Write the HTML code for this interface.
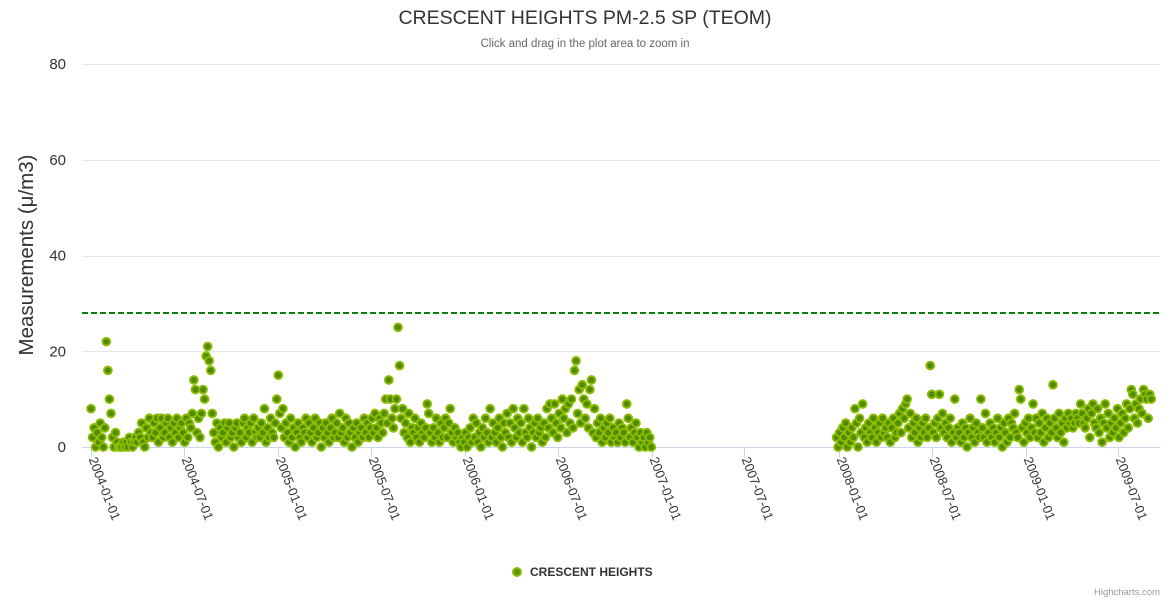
<!DOCTYPE html>
<html><head><meta charset="utf-8"><style>
html,body{margin:0;padding:0;background:#fff;}
svg{display:block;font-family:"Liberation Sans","DejaVu Sans",sans-serif;}
</style></head><body>
<svg id="chart" width="1170" height="600" viewBox="0 0 1170 600" xmlns="http://www.w3.org/2000/svg">
<rect x="0" y="0" width="1170" height="600" fill="#fff"/>
<text x="585" y="24" text-anchor="middle" font-size="19.5" fill="#333">CRESCENT HEIGHTS PM-2.5 SP (TEOM)</text>
<text x="585" y="47" text-anchor="middle" font-size="11.5" fill="#666">Click and drag in the plot area to zoom in</text>
<g id="grid"></g>
<g id="yticks"></g>
<text transform="translate(33,255) rotate(-90)" text-anchor="middle" font-size="20.5" fill="#333">Measurements (μ/m3)</text>
<g id="xaxis"></g>
<g id="plot"></g>
<g>
<circle cx="517" cy="572" r="4" fill="#5b9400" stroke="#8cbc00" stroke-width="2"/>
<text x="530" y="576" font-size="12" font-weight="bold" fill="#333">CRESCENT HEIGHTS</text>
</g>
<text x="1160" y="595" text-anchor="end" font-size="9.5" fill="#999">Highcharts.com</text>
</svg>
<script>
// ---- data ----
const yTicks = [0, 20, 40, 60, 80];
const xTickLabels = ["2004-01-01","2004-07-01","2005-01-01","2005-07-01","2006-01-01","2006-07-01","2007-01-01","2007-07-01","2008-01-01","2008-07-01","2009-01-01","2009-07-01"];
const thresholdValue = 28;
const seriesAStart = "2004-01-01";
const seriesBStart = "2007-12-28";
const stepDays = 3;
const seriesAValues = [8,2,4,0,3,1,5,2,0,4,
22,16,10,7,2,0,3,1,0,0,
0,1,0,1,0,2,1,0,1,2,
1,3,2,5,1,0,4,2,6,3,
2,5,3,6,1,4,6,2,3,5,
6,2,4,1,5,3,6,2,4,5,
3,1,6,2,5,4,7,14,12,3,
6,2,7,12,10,19,21,18,16,7,
3,1,5,0,4,2,3,5,1,4,
5,2,3,0,4,5,2,3,1,5,
6,2,4,3,5,1,6,3,2,4,
2,5,3,8,1,4,2,6,3,2,
5,10,15,7,4,8,2,5,3,1,
6,2,4,0,3,5,2,1,4,3,
6,2,5,3,1,4,6,2,3,5,
0,4,2,5,3,1,4,6,2,3,
5,2,7,3,4,1,6,2,5,3,
0,4,2,5,1,3,4,2,6,3,
5,2,4,6,3,7,4,2,6,5,
3,7,10,5,14,10,6,4,8,10,
25,17,6,8,3,5,2,7,1,4,
3,6,2,4,1,5,3,2,4,9,
7,3,1,4,2,6,3,1,5,2,
4,6,2,5,8,3,1,4,2,3,
1,0,2,1,3,0,2,4,1,6,
2,5,1,3,0,4,2,6,3,1,
8,2,5,3,1,4,6,2,0,5,
3,7,2,5,1,8,4,2,6,3,
5,1,8,3,2,6,4,0,3,5,
2,6,3,4,1,5,2,8,4,9,
6,3,9,5,2,7,4,10,6,8,
3,9,5,10,4,16,18,7,12,5,
13,10,6,9,4,12,14,3,8,2,
5,3,6,1,4,2,5,3,6,1,
4,2,3,1,5,2,4,3,1,9,
6,2,4,1,3,5,2,0,3,1,
2,0,3,1,2,0];
const seriesBValues = [2,0,3,1,4,2,5,0,3,1,
4,2,8,5,0,6,3,9,2,4,
1,5,3,2,6,4,1,3,5,2,
6,3,4,2,5,1,4,6,2,3,
5,7,3,8,6,9,10,4,7,2,
5,3,6,1,4,2,5,3,6,2,
4,17,11,3,5,2,6,11,4,7,
3,5,2,4,6,1,3,10,2,4,
3,1,5,2,4,0,3,6,2,4,
1,5,3,2,10,4,2,7,1,3,
5,2,4,1,3,6,2,4,0,5,
3,1,6,2,5,4,7,3,2,12,
10,4,1,5,3,6,2,4,9,3,
6,2,5,3,7,1,4,6,2,5,
3,13,6,4,2,7,3,5,1,6,
4,7,5,6,4,5,7,6,5,9,
7,5,4,6,8,2,7,9,5,4,
8,3,6,1,5,9,4,7,2,5,
3,6,4,8,2,5,7,3,6,9,
4,8,12,11,6,9,5,8,10,7,
12,11,10,6,11,10];

// ---- axes ----
const NS = "http://www.w3.org/2000/svg";
const plotLeft = 82, plotRight = 1160, plotTop = 64, plotBottom = 447;
const t0 = Date.UTC(2004,0,1), x0 = 91, pxPerDay = 0.5117;
function dayOf(s){const p=s.split("-");return (Date.UTC(+p[0],+p[1]-1,+p[2])-t0)/86400000;}
function xScale(day){return x0 + day*pxPerDay;}
function yScale(v){return plotBottom - v*(plotBottom-plotTop)/80;}
function mk(tag, attrs, parent){const e=document.createElementNS(NS,tag);for(const k in attrs)e.setAttribute(k,attrs[k]);parent.appendChild(e);return e;}

const grid = document.getElementById("grid"), yt = document.getElementById("yticks");
yTicks.forEach(v=>{
  const y = Math.round(yScale(v))+0.5;
  const l = mk("line",{x1:plotLeft,x2:plotRight,y1:y,y2:y,stroke:v===0?"#ccd6eb":"#e6e6e6","stroke-width":1},grid);
  
  
  const t = mk("text",{x:66,y:yScale(v)+5,"text-anchor":"end","font-size":15,fill:"#333"},yt);
  t.textContent = v;
  
  
});
const xa = document.getElementById("xaxis");
xTickLabels.forEach(s=>{
  const x = Math.round(xScale(dayOf(s)))+0.5;
  const tk = mk("line",{x1:x,x2:x,y1:plotBottom,y2:plotBottom+10,stroke:"#ccd6eb"},xa);
  
  
  const t = mk("text",{transform:`translate(${x-3},459) rotate(69)`,"font-size":13,fill:"#333"},xa);
  t.textContent = s;
  
  
});

// ---- marks ----
const plot = document.getElementById("plot");
const th = mk("line",{x1:plotLeft,x2:plotRight,y1:yScale(thresholdValue),y2:yScale(thresholdValue),stroke:"#0a7d0a","stroke-width":2,"stroke-dasharray":"6,3"},plot);


function drawSeries(start, vals){
  const d0 = dayOf(start);
  vals.forEach((v,i)=>{
    const c = mk("circle",{cx:xScale(d0+i*stepDays),cy:yScale(v),r:3.9,fill:"#4f8a00",stroke:"#8cbc00","stroke-width":1.9},plot);
    
    
  });
}
drawSeries(seriesAStart, seriesAValues);
drawSeries(seriesBStart, seriesBValues);
</script>
</body></html>
